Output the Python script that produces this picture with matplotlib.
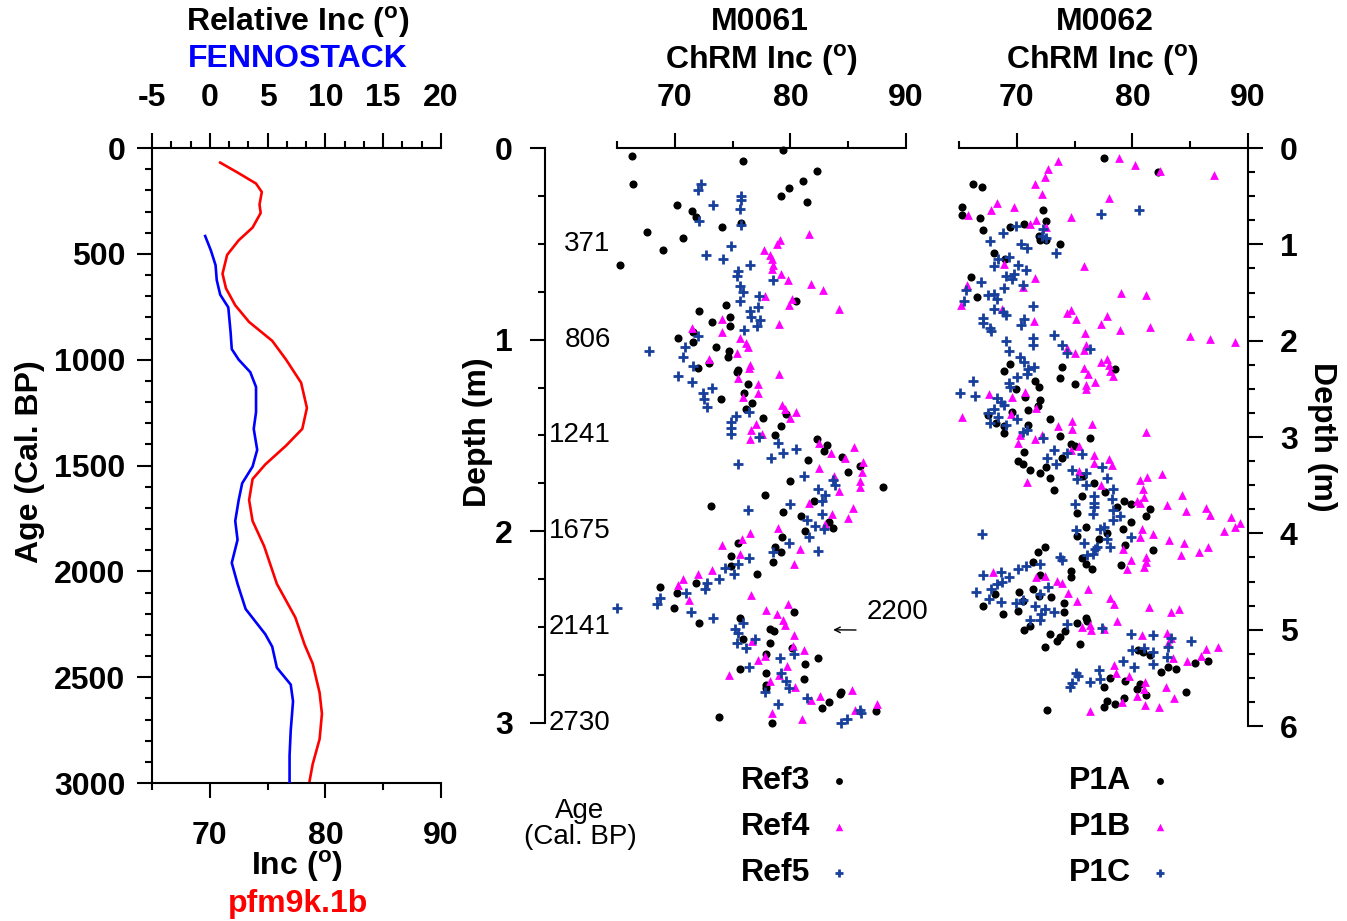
import matplotlib
matplotlib.use("Agg")
import matplotlib.pyplot as plt
import numpy as np
from matplotlib.ticker import FixedLocator, MultipleLocator

plt.rcParams["font.family"] = ["Liberation Sans", "DejaVu Sans"]
plt.rcParams["font.weight"] = "bold"
plt.rcParams["axes.unicode_minus"] = False
plt.rcParams["mathtext.fontset"] = "custom"
plt.rcParams["mathtext.rm"] = "Liberation Sans"

# ---- left panel: field models vs age ----
pfm_age = [69, 119, 168, 208, 267, 307, 376, 436, 505, 594, 663, 743, 822, 911, 1000,
           1109, 1228, 1327, 1406, 1495, 1564, 1663, 1762, 1881, 2059, 2218, 2346, 2436,
           2574, 2673, 2792, 2911, 3000]
pfm_inc = [70.9, 72.5, 74.0, 74.5, 74.3, 74.4, 73.7, 72.5, 71.5, 71.1, 71.4, 72.2, 73.4,
           75.4, 76.6, 77.9, 78.4, 78.0, 76.6, 74.8, 73.7, 73.4, 73.7, 74.7, 75.8, 77.4,
           78.2, 78.9, 79.5, 79.7, 79.5, 78.9, 78.6]
fenno_age = [416, 485, 554, 624, 693, 753, 871, 950, 1000, 1059, 1129, 1248, 1327, 1426,
             1505, 1584, 1663, 1762, 1851, 1960, 2059, 2178, 2297, 2356, 2455, 2535, 2614,
             2752, 2871, 3000]
fenno_rel = [-0.4, 0.1, 0.5, 0.6, 0.9, 1.6, 1.8, 1.9, 2.5, 3.5, 4.0, 4.0, 3.8, 4.1, 3.7,
             2.8, 2.5, 2.2, 2.4, 1.9, 2.4, 3.1, 4.8, 5.4, 5.8, 7.0, 7.2, 7.0, 6.9, 6.9]

# ---- M0061 ChRM inclination (inc, depth m) ----
ref3 = [(66.3, 0.04), (75.9, 0.07), (79.4, 0.01), (82.3, 0.12), (81.1, 0.17), (79.9, 0.21),
        (79.2, 0.25), (81.4, 0.28), (66.4, 0.19), (70.2, 0.30), (71.5, 0.33), (71.8, 0.36),
        (75.7, 0.39), (74.1, 0.41), (67.6, 0.44), (70.7, 0.47), (69.0, 0.53), (65.3, 0.61),
        (80.5, 0.80), (74.4, 0.82), (72.1, 0.85), (74.8, 0.88), (73.2, 0.91), (74.8, 0.93),
        (71.6, 0.96), (70.3, 0.99), (71.6, 1.01), (73.6, 1.04), (74.7, 1.06), (74.6, 1.09),
        (73.0, 1.12), (72.0, 1.15), (75.5, 1.16), (75.4, 1.17), (76.3, 1.23), (74.0, 1.31),
        (76.0, 1.28), (76.7, 1.33), (76.2, 1.36), (77.6, 1.41), (79.6, 1.39), (79.2, 1.45),
        (78.7, 1.50), (82.3, 1.52), (83.2, 1.55), (82.9, 1.58), (84.5, 1.61), (86.0, 1.66),
        (81.5, 1.63), (85.0, 1.69), (80.0, 1.74), (88.0, 1.77), (77.8, 1.81), (73.1, 1.87),
        (82.0, 1.84), (79.4, 1.90), (80.9, 1.92), (83.3, 1.95), (83.7, 1.98), (81.3, 2.00),
        (79.3, 2.03), (75.5, 2.06), (78.7, 2.08), (79.2, 2.11), (74.9, 2.13), (78.5, 2.16),
        (74.9, 2.18), (77.1, 2.22), (71.8, 2.27), (68.7, 2.29), (70.2, 2.32), (69.9, 2.40),
        (72.1, 2.48), (80.3, 2.42), (75.6, 2.45), (78.2, 2.51), (78.6, 2.52), (75.9, 2.56),
        (78.2, 2.58), (80.1, 2.61), (77.9, 2.64), (81.3, 2.69), (82.4, 2.66), (75.6, 2.72),
        (81.2, 2.77), (77.9, 2.74), (77.9, 2.80), (77.9, 2.82), (84.3, 2.85), (84.4, 2.84),
        (83.3, 2.89), (82.7, 2.92), (87.4, 2.94), (73.8, 2.97), (78.4, 3.00)]
ref4 = [(79.1, 0.48), (78.8, 0.50), (81.6, 0.45), (77.7, 0.53), (78.2, 0.56), (78.4, 0.58),
        (78.5, 0.61), (78.4, 0.63), (79.2, 0.66), (79.8, 0.69), (81.8, 0.71), (82.8, 0.74),
        (84.2, 0.84), (77.8, 0.77), (80.1, 0.79), (79.9, 0.82), (74.1, 0.89), (79.0, 0.92),
        (71.5, 0.94), (74.1, 0.96), (75.6, 0.99), (76.2, 1.02), (76.3, 1.04), (75.4, 1.07),
        (73.0, 1.10), (76.5, 1.13), (76.4, 1.15), (79.0, 1.18), (75.5, 1.20), (77.2, 1.23),
        (77.2, 1.28), (75.9, 1.30), (79.3, 1.34), (79.5, 1.36), (80.5, 1.38), (80.0, 1.41),
        (77.0, 1.44), (76.6, 1.47), (77.5, 1.49), (76.5, 1.52), (82.5, 1.54), (83.5, 1.59),
        (85.5, 1.56), (84.7, 1.62), (86.3, 1.64), (86.2, 1.69), (86.0, 1.74), (86.0, 1.77),
        (82.5, 1.67), (83.8, 1.71), (84.2, 1.79), (81.6, 1.85), (85.4, 1.88), (85.0, 1.93),
        (83.6, 1.91), (83.0, 1.96), (78.9, 1.98), (76.5, 2.01), (74.1, 2.07), (75.8, 2.04),
        (75.6, 2.12), (80.8, 2.09), (80.3, 2.17), (73.2, 2.20), (72.0, 2.22), (70.7, 2.25),
        (70.3, 2.28), (71.2, 2.36), (76.6, 2.33), (77.9, 2.41), (78.8, 2.43), (79.8, 2.38),
        (79.4, 2.46), (79.5, 2.49), (80.3, 2.54), (76.7, 2.57), (80.2, 2.60), (81.2, 2.62),
        (77.8, 2.65), (77.2, 2.67), (79.7, 2.70), (74.7, 2.75), (79.0, 2.75), (78.2, 2.78),
        (80.4, 2.81), (81.8, 2.88), (82.6, 2.86), (85.3, 2.83), (85.6, 2.93), (87.5, 2.90),
        (78.4, 2.95), (81.0, 2.98)]
ref5 = [(72.3, 0.19), (72.0, 0.22), (73.3, 0.30), (72.1, 0.38), (75.7, 0.25), (75.7, 0.27),
        (75.6, 0.32), (75.7, 0.40), (74.9, 0.51), (72.7, 0.56), (74.2, 0.58), (76.5, 0.61),
        (75.5, 0.64), (75.4, 0.67), (75.6, 0.72), (75.9, 0.75), (78.5, 0.69), (77.3, 0.77),
        (75.6, 0.80), (77.2, 0.83), (76.5, 0.85), (76.6, 0.88), (77.4, 0.90), (77.1, 0.93),
        (76.0, 0.95), (72.0, 0.98), (70.9, 1.04), (67.8, 1.06), (70.7, 1.09), (71.6, 1.14),
        (70.3, 1.19), (71.5, 1.22), (73.2, 1.25), (72.4, 1.28), (72.5, 1.31), (72.8, 1.35),
        (76.4, 1.38), (75.3, 1.40), (74.9, 1.43), (74.9, 1.46), (74.9, 1.49), (77.3, 1.51),
        (78.9, 1.54), (78.3, 1.62), (79.4, 1.59), (80.5, 1.57), (75.5, 1.65), (81.2, 1.71),
        (83.7, 1.73), (83.9, 1.76), (82.4, 1.78), (83.0, 1.81), (82.7, 1.84), (76.3, 1.89),
        (80.0, 1.86), (82.7, 1.91), (81.4, 1.94), (82.1, 1.97), (82.9, 1.99), (81.6, 2.03),
        (82.4, 2.10), (79.9, 2.06), (78.5, 2.11), (76.4, 2.14), (75.5, 2.17), (75.1, 2.22),
        (74.3, 2.19), (73.8, 2.25), (72.8, 2.27), (72.6, 2.30), (71.0, 2.32), (68.7, 2.35),
        (68.5, 2.38), (65.0, 2.40), (71.4, 2.42), (73.3, 2.45), (75.9, 2.48), (75.2, 2.51),
        (75.5, 2.53), (75.4, 2.58), (76.2, 2.61), (76.9, 2.56), (79.1, 2.66), (80.3, 2.64),
        (76.4, 2.71), (79.2, 2.74), (79.6, 2.78), (79.9, 2.82), (81.4, 2.87), (78.9, 2.90),
        (77.8, 2.84), (86.0, 2.93), (86.1, 2.95), (84.9, 2.98), (84.4, 3.00)]

# ---- M0062 ChRM inclination (inc, depth m) ----
p1a = [(77.5, 0.10), (82.2, 0.25), (66.2, 0.37), (67.0, 0.40), (65.3, 0.61), (65.3, 0.70),
       (66.8, 0.73), (72.3, 0.64), (72.5, 0.76), (70.6, 0.79), (69.4, 0.82), (67.1, 0.85),
       (71.9, 0.91), (72.0, 0.96), (72.5, 0.95), (73.7, 1.00), (68.0, 1.09), (69.0, 1.15),
       (66.0, 1.34), (66.6, 1.55), (69.4, 2.24), (68.9, 2.32), (71.6, 2.42), (71.9, 2.48),
       (69.9, 2.50), (70.7, 2.58), (72.0, 2.62), (71.8, 2.68), (71.0, 2.72), (69.6, 2.74),
       (67.5, 2.77), (68.2, 2.85), (71.0, 2.88), (68.9, 2.89), (68.9, 2.96), (72.9, 2.81),
       (73.7, 2.99), (76.3, 3.01), (73.9, 2.27), (73.7, 2.39), (75.0, 2.45), (78.5, 2.29),
       (74.7, 3.07), (75.0, 3.09), (73.9, 3.22), (70.6, 3.16), (70.1, 3.25), (70.5, 3.28),
       (71.1, 3.34), (72.0, 3.37), (72.5, 3.31), (72.9, 3.43), (73.2, 3.55), (75.7, 3.41),
       (76.7, 3.48), (77.6, 3.57), (75.6, 3.61), (75.2, 3.79), (79.3, 3.66), (79.9, 3.70),
       (78.7, 3.73), (81.5, 3.75), (81.2, 3.82), (79.9, 3.88), (79.2, 3.96), (76.0, 3.93),
       (75.2, 4.03), (77.8, 4.00), (77.1, 4.06), (79.4, 4.12), (81.8, 4.17), (75.6, 4.26),
       (76.0, 4.32), (76.5, 4.37), (79.0, 4.33), (72.4, 4.14), (71.8, 4.19), (71.4, 4.30),
       (72.0, 4.43), (74.7, 4.39), (74.7, 4.45), (70.2, 4.61), (68.1, 4.63), (67.1, 4.75),
       (68.8, 4.84), (70.1, 4.81), (71.4, 4.58), (70.5, 4.70), (71.9, 4.65), (73.0, 4.66),
       (74.1, 4.72), (74.1, 4.82), (75.2, 4.93), (76.0, 4.88), (76.1, 4.91), (71.1, 4.96),
       (70.6, 5.00), (72.9, 5.05), (73.7, 5.08), (73.5, 5.12), (74.2, 5.01), (72.4, 5.18),
       (75.5, 5.15), (80.5, 5.21), (80.9, 5.23), (81.5, 5.26), (82.5, 5.44), (83.1, 5.39),
       (83.8, 5.41), (85.4, 5.35), (86.5, 5.33), (78.1, 5.50), (77.5, 5.60), (79.4, 5.53),
       (80.7, 5.56), (80.4, 5.62), (81.2, 5.68), (84.6, 5.65), (79.3, 5.71), (78.5, 5.77),
       (77.8, 5.74), (77.5, 5.80), (72.6, 5.83)]
p1b = [(78.8, 0.10), (80.2, 0.18), (82.4, 0.24), (87.1, 0.28), (73.6, 0.13), (72.7, 0.22),
       (72.4, 0.30), (71.6, 0.37), (72.2, 0.48), (78.0, 0.52), (68.3, 0.57), (67.8, 0.64),
       (69.8, 0.61), (65.8, 0.70), (71.7, 0.75), (71.1, 0.79), (72.5, 0.82), (74.7, 0.72),
       (75.8, 1.23), (68.9, 1.20), (65.7, 1.42), (71.6, 1.35), (70.5, 1.44), (65.2, 1.63),
       (68.7, 1.67), (79.0, 1.50), (81.2, 1.53), (74.3, 1.71), (74.7, 1.68), (75.1, 1.78),
       (71.5, 1.80), (77.8, 1.74), (77.3, 1.83), (78.9, 1.89), (81.5, 1.86), (75.9, 1.92),
       (85.0, 1.95), (86.7, 1.98), (88.9, 2.01), (76.0, 2.04), (74.3, 2.08), (75.0, 2.13),
       (75.8, 2.10), (77.3, 2.22), (77.8, 2.19), (78.0, 2.25), (78.1, 2.32), (78.3, 2.37),
       (75.8, 2.28), (76.2, 2.35), (76.8, 2.43), (76.0, 2.46), (76.0, 2.50), (70.7, 2.53),
       (67.6, 2.55), (69.6, 2.58), (71.7, 2.70), (69.5, 2.76), (65.3, 2.79), (73.6, 2.89),
       (74.8, 2.83), (76.5, 2.86), (74.8, 2.92), (81.2, 2.95), (72.2, 2.98), (70.3, 2.98),
       (70.1, 3.06), (71.6, 3.02), (75.4, 3.09), (74.7, 3.14), (76.7, 3.19), (78.0, 3.23),
       (78.2, 3.29), (76.7, 3.27), (75.4, 3.35), (77.3, 3.50), (70.9, 3.47), (80.7, 3.45),
       (81.3, 3.42), (82.6, 3.38), (80.9, 3.54), (81.0, 3.62), (80.4, 3.66), (80.7, 3.69),
       (83.0, 3.71), (84.3, 3.60), (84.6, 3.77), (86.4, 3.74), (86.7, 3.81), (88.5, 3.83),
       (88.9, 3.93), (89.3, 3.89), (87.9, 3.98), (83.2, 4.07), (84.5, 4.10), (86.5, 4.14),
       (85.8, 4.19), (84.2, 4.22), (81.8, 4.01), (80.7, 4.04), (80.8, 3.95), (79.2, 4.16),
       (79.9, 4.28), (81.2, 4.25), (81.2, 4.30), (81.0, 4.35), (79.5, 4.37), (67.9, 4.40),
       (72.4, 4.44), (71.7, 4.45), (73.5, 4.49), (73.9, 4.52), (74.4, 4.62), (76.2, 4.58),
       (75.2, 4.70), (78.1, 4.67), (78.4, 4.73), (81.4, 4.76), (83.3, 4.82), (84.0, 4.79),
       (78.7, 4.91), (76.3, 4.95), (76.4, 5.00), (75.6, 4.97), (77.5, 4.99), (80.8, 5.06),
       (83.0, 5.03), (83.3, 5.09), (83.1, 5.14), (83.5, 5.29), (84.7, 5.33), (85.9, 5.27),
       (86.4, 5.20), (87.4, 5.18), (78.4, 5.37), (78.6, 5.45), (79.7, 5.48), (81.1, 5.54),
       (81.0, 5.62), (82.9, 5.60), (83.6, 5.71), (80.4, 5.69), (81.1, 5.78), (79.1, 5.75),
       (82.3, 5.80), (76.3, 5.84)]
p1c = [(77.3, 0.68), (80.6, 0.64), (69.9, 0.81), (68.8, 0.88), (67.7, 0.97), (70.4, 1.00),
       (70.9, 1.04), (72.3, 0.84), (72.2, 0.91), (72.5, 0.93), (73.4, 1.09), (68.4, 1.15),
       (69.3, 1.13), (68.0, 1.23), (70.1, 1.21), (70.8, 1.27), (69.1, 1.33), (69.8, 1.31),
       (69.6, 1.36), (70.5, 1.42), (68.9, 1.45), (66.9, 1.39), (65.6, 1.47), (65.4, 1.59),
       (67.5, 1.53), (68.0, 1.52), (68.3, 1.57), (68.0, 1.67), (68.8, 1.70), (69.1, 1.73),
       (71.4, 1.64), (67.1, 1.76), (67.1, 1.82), (67.7, 1.87), (67.8, 1.90), (70.6, 1.78),
       (70.4, 1.84), (69.1, 2.00), (71.4, 1.97), (71.4, 2.04), (69.3, 2.11), (73.2, 1.94),
       (73.9, 2.05), (74.3, 2.13), (76.3, 2.09), (70.3, 2.17), (70.6, 2.22), (71.0, 2.29),
       (70.9, 2.35), (71.5, 2.27), (70.0, 2.38), (69.3, 2.44), (69.4, 2.48), (66.2, 2.42),
       (65.1, 2.54), (66.4, 2.57), (68.3, 2.60), (68.6, 2.64), (68.9, 2.67), (68.0, 2.71),
       (67.5, 2.75), (68.4, 2.79), (67.7, 2.85), (69.1, 2.88), (70.0, 2.81), (70.5, 2.95),
       (70.9, 2.93), (72.3, 3.01), (73.2, 3.13), (74.3, 3.17), (75.6, 3.18), (72.6, 3.22),
       (73.4, 3.28), (74.8, 3.34), (76.0, 3.37), (75.2, 3.44), (76.0, 3.50), (77.4, 3.31),
       (77.8, 3.43), (78.3, 3.54), (78.2, 3.64), (76.7, 3.61), (76.7, 3.68), (76.7, 3.73),
       (76.6, 3.80), (75.0, 3.70), (78.3, 3.76), (78.9, 3.82), (78.3, 3.86), (77.5, 3.93),
       (77.2, 3.96), (75.1, 3.97), (75.8, 4.10), (76.8, 4.16), (76.9, 4.14), (76.6, 4.21),
       (76.1, 4.23), (78.1, 4.14), (77.8, 4.06), (79.9, 4.04), (67.0, 4.01), (73.7, 4.25),
       (73.9, 4.28), (72.0, 4.32), (70.8, 4.34), (70.1, 4.37), (69.3, 4.45), (68.6, 4.40),
       (68.7, 4.51), (68.3, 4.53), (67.1, 4.43), (66.5, 4.61), (67.8, 4.58), (67.6, 4.68),
       (68.6, 4.71), (69.9, 4.72), (70.5, 4.69), (72.0, 4.63), (72.7, 4.56), (71.6, 4.75),
       (72.4, 4.79), (73.2, 4.82), (72.1, 4.84), (72.0, 4.90), (71.1, 4.90), (74.3, 4.94),
       (77.4, 4.98), (79.9, 5.04), (81.8, 5.06), (83.3, 5.09), (85.1, 5.12), (80.0, 5.21),
       (81.0, 5.19), (81.8, 5.23), (83.1, 5.18), (83.0, 5.28), (81.8, 5.36), (79.2, 5.33),
       (80.1, 5.39), (77.1, 5.42), (75.1, 5.45), (75.3, 5.48), (74.6, 5.59), (74.8, 5.55),
       (76.3, 5.54), (77.2, 5.51)]

age_depths = [0.5, 1.0, 1.5, 2.0, 2.5, 3.0]
age_labels = ["371", "806", "1241", "1675", "2141", "2730"]

W, H = 1347, 921
BLACK, MAGENTA, NAVY = "black", "#ff00ff", "#173f9c"
FS = 23
DEG = r"($^{\rm o}$)"
DOT = dict(s=34, color=BLACK, marker="o", lw=0, clip_on=False)
TRI = dict(s=40, color=MAGENTA, marker="^", lw=0, clip_on=False)
CROSS = dict(s=58, color=NAVY, marker="+", linewidths=2.0, clip_on=False)


def rect(x0, y0, x1, y1):
    return [x0 / W, 1 - y1 / H, (x1 - x0) / W, (y1 - y0) / H]


def px(x, y):
    return (x / W, 1 - y / H)


def style_ticks(ax, axis="both"):
    ax.tick_params(axis=axis, which="major", direction="out", length=11, width=1.5,
                   labelsize=FS)
    ax.tick_params(axis=axis, which="minor", direction="out", length=5, width=1.5)


fig = plt.figure(figsize=(W / 100, H / 100), dpi=100)

# left panel
ax1 = fig.add_axes(rect(152, 148, 441, 783))
ax1.plot(pfm_inc, pfm_age, color="#ff0000", lw=1.9, solid_joinstyle="round")
ax1.set_xlim(65, 90)
ax1.set_ylim(3000, 0)
ax1.xaxis.set_major_locator(FixedLocator([70, 80, 90]))
ax1.xaxis.set_minor_locator(FixedLocator([65, 75, 85]))
ax1.yaxis.set_major_locator(MultipleLocator(500))
ax1.yaxis.set_minor_locator(MultipleLocator(100))
style_ticks(ax1)
ax1.tick_params(axis="x", which="major", pad=16)
ax1.tick_params(axis="y", which="major", pad=8)
for s in ("top", "right"):
    ax1.spines[s].set_visible(False)
for s in ("left", "bottom"):
    ax1.spines[s].set_linewidth(1.5)

ax1t = ax1.twiny()
ax1t.plot(fenno_rel, fenno_age, color="#0000ff", lw=1.9, solid_joinstyle="round")
ax1t.set_xlim(-5, 20)
ax1t.xaxis.set_major_locator(MultipleLocator(5))
ax1t.xaxis.set_minor_locator(FixedLocator(np.arange(-5, 20.01, 5 / 3)))
style_ticks(ax1t, "x")
ax1t.tick_params(axis="x", which="major", pad=14)
for s in ("left", "right", "bottom"):
    ax1t.spines[s].set_visible(False)
ax1t.spines["top"].set_linewidth(1.5)

# middle panel (M0061)
ax2 = fig.add_axes(rect(617, 148, 906, 723))
ax2.scatter(*zip(*ref3), label="Ref3", **DOT)
ax2.scatter(*zip(*ref4), label="Ref4", **TRI)
ax2.scatter(*zip(*ref5), label="Ref5", **CROSS)
ax2.set_xlim(65, 90)
ax2.set_ylim(3, 0)
ax2.xaxis.tick_top()
ax2.xaxis.set_major_locator(FixedLocator([70, 80, 90]))
ax2.xaxis.set_minor_locator(FixedLocator([65, 75, 85]))
ax2.yaxis.set_major_locator(MultipleLocator(1))
ax2.yaxis.set_minor_locator(MultipleLocator(0.25))
style_ticks(ax2)
ax2.tick_params(axis="x", which="major", pad=14)
ax2.tick_params(axis="y", which="major", pad=12)
ax2.spines["right"].set_visible(False)
ax2.spines["bottom"].set_visible(False)
ax2.spines["left"].set_position(("outward", 52))
for s in ("left", "top"):
    ax2.spines[s].set_linewidth(1.5)
for d, lab in zip(age_depths, age_labels):
    ax2.text(-0.022, d, lab, transform=ax2.get_yaxis_transform(), ha="right", va="center",
             fontsize=20, fontweight="normal")

# right panel (M0062)
ax3 = fig.add_axes(rect(959, 148, 1248, 726))
ax3.scatter(*zip(*p1a), label="P1A", **DOT)
ax3.scatter(*zip(*p1b), label="P1B", **TRI)
ax3.scatter(*zip(*p1c), label="P1C", **CROSS)
ax3.set_xlim(65, 90)
ax3.set_ylim(6, 0)
ax3.xaxis.tick_top()
ax3.yaxis.tick_right()
ax3.xaxis.set_major_locator(FixedLocator([70, 80, 90]))
ax3.xaxis.set_minor_locator(FixedLocator([65, 75, 85]))
ax3.yaxis.set_major_locator(MultipleLocator(1))
ax3.yaxis.set_minor_locator(MultipleLocator(0.25))
style_ticks(ax3)
ax3.tick_params(axis="x", which="major", pad=14)
ax3.tick_params(axis="y", which="major", pad=12)
ax3.spines["left"].set_visible(False)
ax3.spines["bottom"].set_visible(False)
for s in ("right", "top"):
    ax3.spines[s].set_linewidth(1.5)

# titles and axis labels
fig.text(*px(298, 22), "Relative Inc " + DEG, ha="center", va="center", fontsize=FS)
fig.text(*px(298, 59), "FENNOSTACK", ha="center", va="center", fontsize=FS, color="#0000ff")
fig.text(*px(760, 22), "M0061", ha="center", va="center", fontsize=FS)
fig.text(*px(762, 60), "ChRM Inc " + DEG, ha="center", va="center", fontsize=FS)
fig.text(*px(1105, 22), "M0062", ha="center", va="center", fontsize=FS)
fig.text(*px(1103, 60), "ChRM Inc " + DEG, ha="center", va="center", fontsize=FS)
fig.text(*px(297, 866), "Inc " + DEG, ha="center", va="center", fontsize=FS)
fig.text(*px(298, 904), "pfm9k.1b", ha="center", va="center", fontsize=FS, color="#ff0000")
fig.text(*px(30, 462), "Age (Cal. BP)", ha="center", va="center", fontsize=FS, rotation=90)
fig.text(*px(478, 432), "Depth (m)", ha="center", va="center", fontsize=FS, rotation=90)
fig.text(*px(1322, 437), "Depth (m)", ha="center", va="center", fontsize=FS, rotation=-90)
fig.text(*px(580, 824), "Age\n(Cal. BP)", ha="center", va="center", fontsize=20,
         fontweight="normal", multialignment="center", linespacing=1.05)

# 2200 cal BP tie line
fig.text(*px(897, 612), "2200", ha="center", va="center", fontsize=20, fontweight="normal")
ax2.annotate("", xy=(83.7, 2.514), xycoords="data", xytext=px(856, 630),
             textcoords="figure fraction",
             arrowprops=dict(arrowstyle="->", color="black", lw=1, shrinkA=0, shrinkB=0))
ax3.annotate("", xy=(64.5, 4.72), xycoords="data", xytext=px(935, 603),
             textcoords="figure fraction",
             arrowprops=dict(arrowstyle="->", color="black", lw=1, shrinkA=0, shrinkB=0))

legend_kw = dict(loc="upper left", markerfirst=False, frameon=False,
                 prop=dict(weight="bold", size=FS), borderpad=0, borderaxespad=0,
                 handlelength=0.6, handletextpad=0.6, labelspacing=0.5, markerscale=0.85)
h2, l2 = ax2.get_legend_handles_labels()
fig.legend(h2, l2, bbox_to_anchor=px(741, 766), **legend_kw)
h3, l3 = ax3.get_legend_handles_labels()
fig.legend(h3, l3, bbox_to_anchor=px(1069, 766), **legend_kw)

fig.savefig("out.png", dpi=100)
